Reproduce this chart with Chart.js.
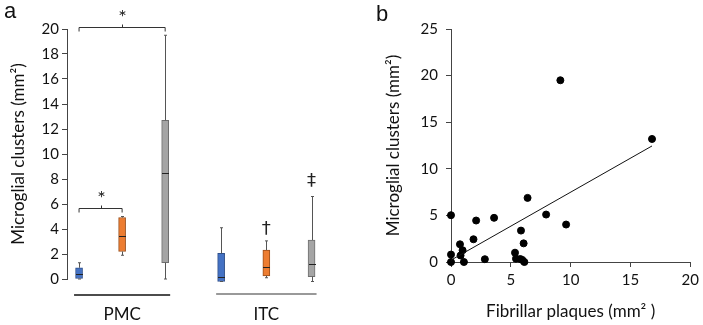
<!DOCTYPE html>
<html>
<head>
<meta charset="utf-8">
<script src="https://cdn.jsdelivr.net/npm/chart.js@4.4.1/dist/chart.umd.min.js"></script>
<style>
  body { margin: 0; background: #fff; }
  #wrap { position: relative; width: 703px; height: 325px; }
  #boxWrap { position: absolute; left: 0; top: 0; width: 360px; height: 325px; }
  #scatWrap { position: absolute; left: 360px; top: 0; width: 343px; height: 325px; }
  .lbl { position: absolute; font-family: "Liberation Sans", Arial, sans-serif; font-size: 22px; color: #111; }
</style>
</head>
<body>
<div id="wrap">
  <div id="boxWrap"><canvas id="boxChart"></canvas></div>
  <div id="scatWrap"><canvas id="scatChart"></canvas></div>
  <div class="lbl" style="left:4px; top:-2px;">a</div>
  <div class="lbl" style="left:376px; top:1px;">b</div>
</div>
<script>
// panel a - box plots
const boxGroups = ['PMC', 'PMC', 'PMC', 'ITC', 'ITC', 'ITC'];
const boxPos = [1, 2, 3, 4.3, 5.35, 6.4];
const boxMin = [0, 1.9, 0, -0.2, 0.1, -0.2];
const boxQ1 = [0, 2.2, 1.3, -0.2, 0.25, 0.18];
const boxMedian = [0.42, 3.42, 8.5, 0.2, 0.98, 1.18];
const boxQ3 = [0.9, 4.92, 12.7, 2.05, 2.32, 3.12];
const boxMax = [1.3, 5.0, 19.5, 4.1, 3.05, 6.6];
const boxFill = ['#4472C4', '#ED7D31', '#A5A5A5', '#4472C4', '#ED7D31', '#A5A5A5'];
const boxEdge = ['#2E4F8A', '#9A4F1C', '#6F6F6F', '#2E4F8A', '#9A4F1C', '#6F6F6F'];
const boxTicks = [0, 2, 4, 6, 8, 10, 12, 14, 16, 18, 20];

// significance marks
const bracketFrom = [0, 0];
const bracketTo = [2, 1];
const bracketLevel = [20.15, 5.7];
const bracketText = ['*', '*'];
const markBox = [4, 5];
const markLevel = [4.0, 7.8];
const markText = ['\u2020', '\u2021'];
const groupNames = ['PMC', 'ITC'];
const groupFirst = [0, 3];
const groupLast = [2, 5];
const groupLineColor = ['#111', '#777'];

// panel b - scatter
const plaqueX = [0, 0, 0, 0.75, 0.8, 0.97, 1.08, 1.88, 2.1, 2.83, 3.6, 5.35, 5.43, 5.79, 5.85, 5.96, 6.07, 6.13, 6.4, 7.95, 9.14, 9.62, 16.8];
const clusterY = [5.02, 0.8, 0, 1.9, 0.7, 1.26, 0, 2.44, 4.45, 0.3, 4.74, 1.0, 0.36, 0.32, 3.37, 0.22, 2.0, 0, 6.88, 5.09, 19.5, 4.02, 13.2];
const fitX = [0, 16.8];
const fitY = [0.2, 12.45];
const scatXTicks = [0, 5, 10, 15, 20];
const scatYTicks = [0, 5, 10, 15, 20, 25];

const tickFont = { family: 'Lato, "Open Sans", sans-serif', size: 15 };
const titleFont = { family: 'Lato, "Open Sans", sans-serif', size: 17 };
const axisColor = '#444';

Chart.defaults.animation = false;
Chart.defaults.color = '#111';

const boxExtras = {
  id: 'boxExtras',
  afterDatasetsDraw(chart) {
    const ctx = chart.ctx;
    const xs = chart.scales.x, ys = chart.scales.y;
    const half = 3.5;
    ctx.save();
    // whiskers and medians
    for (let i = 0; i < boxPos.length; i++) {
      const cx = Math.round(xs.getPixelForValue(boxPos[i])) + 0.5;
      ctx.strokeStyle = '#555';
      ctx.lineWidth = 1;
      ctx.beginPath();
      ctx.moveTo(cx, ys.getPixelForValue(boxQ3[i]));
      ctx.lineTo(cx, ys.getPixelForValue(boxMax[i]));
      ctx.moveTo(cx, ys.getPixelForValue(boxQ1[i]));
      ctx.lineTo(cx, ys.getPixelForValue(boxMin[i]));
      ctx.moveTo(cx - 1.5, ys.getPixelForValue(boxMax[i]));
      ctx.lineTo(cx + 1.5, ys.getPixelForValue(boxMax[i]));
      ctx.moveTo(cx - 1.5, ys.getPixelForValue(boxMin[i]));
      ctx.lineTo(cx + 1.5, ys.getPixelForValue(boxMin[i]));
      ctx.stroke();
      ctx.strokeStyle = '#222';
      ctx.beginPath();
      const my = Math.round(ys.getPixelForValue(boxMedian[i])) + 0.5;
      ctx.moveTo(cx - half, my);
      ctx.lineTo(cx + half, my);
      ctx.stroke();
    }
    // brackets
    ctx.strokeStyle = '#333';
    ctx.fillStyle = '#222';
    ctx.font = '20px Lato, "Open Sans", sans-serif';
    ctx.textAlign = 'center';
    ctx.textBaseline = 'middle';
    for (let i = 0; i < bracketFrom.length; i++) {
      const x1 = xs.getPixelForValue(boxPos[bracketFrom[i]]);
      const x2 = xs.getPixelForValue(boxPos[bracketTo[i]]);
      const y = Math.round(ys.getPixelForValue(bracketLevel[i])) + 0.5;
      const mid = Math.round((x1 + x2) / 2) + 0.5;
      ctx.beginPath();
      ctx.moveTo(x1, y + 4);
      ctx.lineTo(x1, y);
      ctx.lineTo(x2, y);
      ctx.lineTo(x2, y + 4);
      ctx.moveTo(mid, y);
      ctx.lineTo(mid, y - 3);
      ctx.stroke();
      ctx.fillText(bracketText[i], mid, y - 10);
    }
    ctx.font = '18px "DejaVu Sans", sans-serif';
    for (let i = 0; i < markBox.length; i++) {
      ctx.fillText(markText[i], xs.getPixelForValue(boxPos[markBox[i]]), ys.getPixelForValue(markLevel[i]));
    }
    // group lines and names
    const base = ys.getPixelForValue(0);
    ctx.font = '17px Lato, "Open Sans", sans-serif';
    for (let g = 0; g < groupNames.length; g++) {
      const x1 = xs.getPixelForValue(boxPos[groupFirst[g]]) - 5;
      const x2 = xs.getPixelForValue(boxPos[groupLast[g]]) + 5;
      ctx.strokeStyle = groupLineColor[g];
      ctx.lineWidth = 1.5;
      ctx.beginPath();
      ctx.moveTo(x1, base + 16 - g);
      ctx.lineTo(x2, base + 16 - g);
      ctx.stroke();
      ctx.fillStyle = '#111';
      ctx.fillText(groupNames[g], (x1 + x2) / 2, base + 36);
    }
    ctx.restore();
  }
};

new Chart(document.getElementById('boxChart'), {
  type: 'bar',
  data: {
    datasets: [{
      data: boxPos.map((p, i) => ({ x: p, y: [boxQ1[i], boxQ3[i]] })),
      backgroundColor: boxFill,
      borderColor: boxEdge,
      borderWidth: 1,
      borderSkipped: false,
      barThickness: 7,
      clip: false
    }]
  },
  options: {
    responsive: true,
    maintainAspectRatio: false,
    layout: { padding: { left: 8, top: 29, right: 14, bottom: 46 } },
    plugins: { legend: { display: false }, tooltip: { enabled: false } },
    scales: {
      x: { type: 'linear', min: 0.72, max: 7.2, offset: false, display: false },
      y: {
        min: 0, max: 20,
        afterFit(scale) { scale.width = 59; },
        afterBuildTicks(scale) { scale.ticks = boxTicks.map(v => ({ value: v })); },
        grid: { drawOnChartArea: false, tickLength: 5, color: axisColor },
        border: { color: axisColor },
        ticks: { font: tickFont, color: '#111', padding: 3 },
        title: { display: true, text: 'Microglial clusters (mm\u00B2)', font: titleFont, color: '#111', padding: 0 }
      }
    }
  },
  plugins: [boxExtras]
});

new Chart(document.getElementById('scatChart'), {
  type: 'scatter',
  data: {
    datasets: [{
      type: 'line',
      data: fitX.map((x, i) => ({ x: x, y: fitY[i] })),
      borderColor: '#111',
      borderWidth: 1,
      pointRadius: 0,
      fill: false
    }, {
      data: plaqueX.map((x, i) => ({ x: x, y: clusterY[i] })),
      backgroundColor: '#000',
      borderColor: '#000',
      pointRadius: 3.5,
      clip: false
    }]
  },
  options: {
    responsive: true,
    maintainAspectRatio: false,
    layout: { padding: { left: 23, top: 29, right: 11, bottom: 0 } },
    plugins: { legend: { display: false }, tooltip: { enabled: false } },
    scales: {
      x: {
        type: 'linear', min: 0, max: 20,
        afterFit(scale) { scale.height = 63; },
        afterBuildTicks(scale) { scale.ticks = scatXTicks.map(v => ({ value: v })); },
        grid: { drawOnChartArea: false, tickLength: 5, color: axisColor },
        border: { color: axisColor },
        ticks: { font: tickFont, color: '#111', padding: 4 },
        title: { display: true, text: 'Fibrillar plaques (mm\u00B2 )', font: titleFont, color: '#111', padding: { top: 0, bottom: 3 } }
      },
      y: {
        min: 0, max: 25,
        afterFit(scale) { scale.width = 68; },
        afterBuildTicks(scale) { scale.ticks = scatYTicks.map(v => ({ value: v })); },
        grid: { drawOnChartArea: false, tickLength: 5, color: axisColor },
        border: { color: axisColor },
        ticks: { font: tickFont, color: '#111', padding: 8 },
        title: { display: true, text: 'Microglial clusters (mm\u00B2)', font: titleFont, color: '#111', padding: 0 }
      }
    }
  }
});
</script>
</body>
</html>
